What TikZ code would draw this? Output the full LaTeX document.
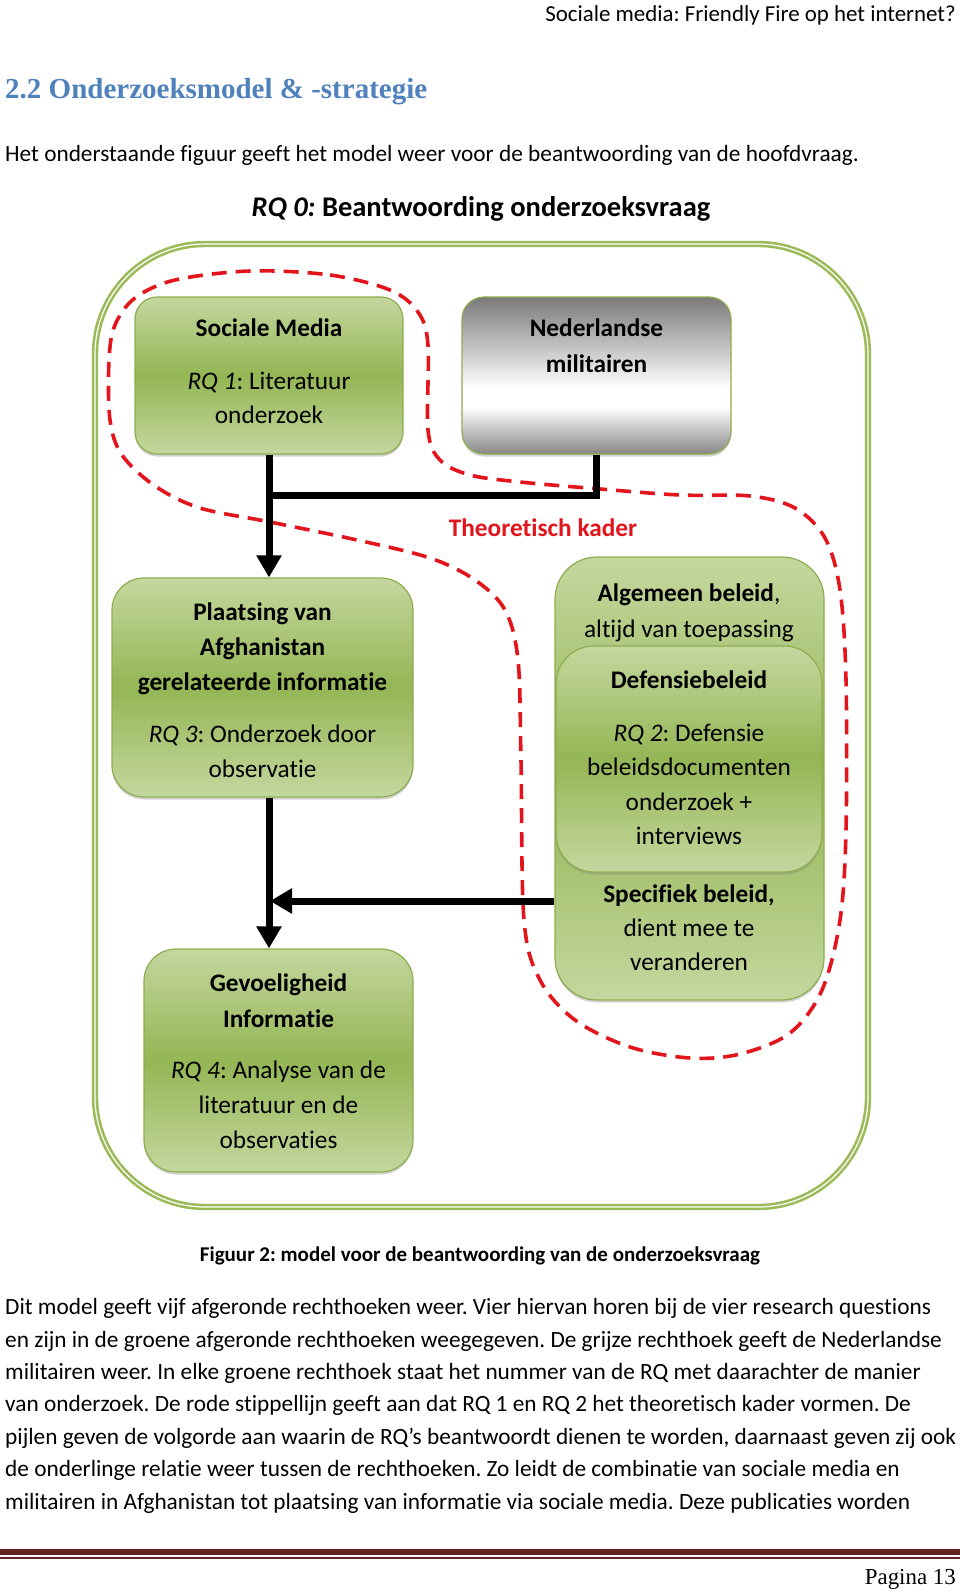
\documentclass[tikz,border=0pt]{standalone}
\usepackage{fontspec}
\setmainfont[Ligatures=CommonOff]{Carlito}
\newfontfamily\serifhead{Liberation Serif}
\usetikzlibrary{arrows.meta,shadows}
\definecolor{gfr}{HTML}{9BBB59}
\definecolor{glt}{HTML}{C4D79E}
\definecolor{gdk}{HTML}{94B654}
\definecolor{gbd}{HTML}{8DAE50}
\definecolor{rdash}{HTML}{E3151C}
\definecolor{hblue}{HTML}{4F81BD}
\definecolor{fline}{HTML}{622423}
\definecolor{gry}{HTML}{7A7A7A}
\pgfdeclareverticalshading{grayv}{100bp}{color(0bp)=(gry!90!white); color(25bp)=(gry!90!white); color(40bp)=(white); color(46bp)=(white); color(75bp)=(gry); color(100bp)=(gry)}
\frenchspacing
\begin{document}
\begin{tikzpicture}[x=1pt,y=-1pt,
  gbox/.style={draw=gbd, line width=1.2pt, rounded corners=#1, inner sep=0pt,
    top color=glt, bottom color=glt, middle color=gdk,
    drop shadow={shadow xshift=0pt,shadow yshift=-2.5pt,opacity=0.35}},
  graybox/.style={draw=gbd, line width=1.2pt, rounded corners=22pt, inner sep=0pt,
    shading=grayv,
    drop shadow={shadow xshift=0pt,shadow yshift=-2.5pt,opacity=0.35}},
  frame/.style={draw=gfr, double=white, double distance=1.2pt, line width=2.6pt,
    rounded corners=110pt, inner sep=0pt},
  txt/.style={inner sep=0pt, yshift=-7pt},
  bt/.style={txt, font=\fontsize{25.3}{30}\selectfont, anchor=mid},
  bb/.style={txt, font=\bfseries\fontsize{25.3}{30}\selectfont, anchor=mid},
  body/.style={txt, font=\fontsize{23.3}{28}\selectfont, anchor=mid west},
  conn/.style={line width=7pt, black, line join=miter},
  tip/.style={-{Triangle[width=24pt,length=22pt]}},
  redd/.style={rdash, line width=3.6pt, dash pattern=on 15pt off 9pt}
]
\useasboundingbox (0,0) rectangle (960,1592);
\fill[white] (0,0) rectangle (960,1592);

% page header and text
\node[txt, font=\fontsize{22.9}{28}\selectfont, anchor=mid east] (hdr) at (956,12) {Sociale media: Friendly Fire op het internet?};
\node[txt, font=\serifhead\bfseries\fontsize{29}{33}\selectfont, text=hblue, anchor=mid west] (h2) at (5,89) {2.2 Onderzoeksmodel \& -strategie};
\node[body] (intro) at (5,152) {Het onderstaande figuur geeft het model weer voor de beantwoording van de hoofdvraag.};

% diagram title
\node[txt, font=\bfseries\fontsize{28.5}{32}\selectfont, anchor=mid] (title) at (481,207) {\textit{RQ 0:} Beantwoording onderzoeksvraag};

% outer frame
\node[frame, minimum width=773pt, minimum height=963pt] (fr) at (481.5,725.5) {};

% boxes
\node[gbox=22pt, minimum width=268pt, minimum height=157pt] (sm) at (269,375.5) {};
\node[graybox, minimum width=269pt, minimum height=157pt] (nm) at (596.5,375.5) {};
\node[gbox=32pt, minimum width=301pt, minimum height=219pt] (pl) at (262.5,687.5) {};
\node[gbox=32pt, minimum width=269pt, minimum height=223pt] (gv) at (278.5,1060.5) {};
\node[gbox=42pt, minimum width=269pt, minimum height=443pt] (alg) at (689.5,778.5) {};
\node[gbox=38pt, minimum width=266pt, minimum height=226pt] (def) at (689,759) {};

% red dashed theoretical frame
\draw[redd] plot[smooth cycle, tension=0.55] coordinates {
 (250,271) (330,275) (390,290) (418,312) (428,345) (428,430) (440,460) (470,475)
 (520,482) (600,489) (680,495) (750,496) (795,508) (825,538) (840,590) (846,680)
 (846,830) (840,920) (822,990) (790,1033) (740,1054) (690,1058) (630,1047) (575,1020)
 (540,980) (524,920) (521,760) (518,660) (505,610) (475,580) (430,558) (357,540)
 (270,522) (200,508) (155,486) (122,455) (110,420) (109,360) (115,325) (135,298) (175,280)};
\node[txt, font=\bfseries\fontsize{25.3}{30}\selectfont, text=rdash, anchor=mid] (tk) at (543,527) {Theoretisch kader};

% connectors
\coordinate (jy) at (0,495);
\coordinate (hy) at (0,901);
\draw[conn] (nm.south) -- (nm.south |- jy) -- (sm.south |- jy);
\draw[conn,tip] (sm.south) -- (sm.south |- pl.north);
\draw[conn,tip] (sm.south |- pl.south) -- (sm.south |- gv.north);
\draw[conn,tip] (alg.west |- hy) -- ([xshift=1pt]sm.south |- hy);

% box texts
\node[bb] (t1a) at (269,327) {Sociale Media};
\node[bt] (t1b) at (269,380) {\textit{RQ 1}: Literatuur};
\node[bt] (t1c) at (269,414) {onderzoek};

\node[bb] (t2a) at (596.5,327) {Nederlandse};
\node[bb] (t2b) at (596.5,363) {militairen};

\node[bb] (t3a) at (262.5,611) {Plaatsing van};
\node[bb] (t3b) at (262.5,646) {Afghanistan};
\node[bb] (t3c) at (262.5,681) {gerelateerde informatie};
\node[bt] (t3d) at (262.5,733) {\textit{RQ 3}: Onderzoek door};
\node[bt] (t3e) at (262.5,768) {observatie};

\node[bb] (t4a) at (278.5,982) {Gevoeligheid};
\node[bb] (t4b) at (278.5,1018) {Informatie};
\node[bt] (t4c) at (278.5,1069) {\textit{RQ 4}: Analyse van de};
\node[bt] (t4d) at (278.5,1104) {literatuur en de};
\node[bt] (t4e) at (278.5,1139) {observaties};

\node[bt] (t5a) at (689,592) {\textbf{Algemeen beleid},};
\node[bt] (t5b) at (689,628) {altijd van toepassing};
\node[bb] (t5c) at (689,679) {Defensiebeleid};
\node[bt] (t5d) at (689,732) {\textit{RQ 2}: Defensie};
\node[bt] (t5e) at (689,766) {beleidsdocumenten};
\node[bt] (t5f) at (689,801) {onderzoek +};
\node[bt] (t5g) at (689,835) {interviews};
\node[bb] (t5h) at (689,893) {Specifiek beleid,};
\node[bt] (t5i) at (689,927) {dient mee te};
\node[bt] (t5j) at (689,961) {veranderen};

% caption and body
\node[txt, font=\bfseries\fontsize{21}{25}\selectfont, anchor=mid] (cap) at (480,1252) {Figuur 2: model voor de beantwoording van de onderzoeksvraag};
\node[body] (b1) at (5,1305) {Dit model geeft vijf afgeronde rechthoeken weer. Vier hiervan horen bij de vier research questions};
\node[body] (b2) at (5,1338) {en zijn in de groene afgeronde rechthoeken weegegeven. De grijze rechthoek geeft de Nederlandse};
\node[body] (b3) at (5,1370) {militairen weer. In elke groene rechthoek staat het nummer van de RQ met daarachter de manier};
\node[body] (b4) at (5,1402) {van onderzoek. De rode stippellijn geeft aan dat RQ 1 en RQ 2 het theoretisch kader vormen. De};
\node[body] (b5) at (5,1435) {pijlen geven de volgorde aan waarin de RQ’s beantwoordt dienen te worden, daarnaast geven zij ook};
\node[body] (b6) at (5,1467) {de onderlinge relatie weer tussen de rechthoeken. Zo leidt de combinatie van sociale media en};
\node[body] (b7) at (5,1500) {militairen in Afghanistan tot plaatsing van informatie via sociale media. Deze publicaties worden};

% footer
\fill[fline] (0,1549) rectangle (960,1554.5);
\draw[fline, line width=1.4pt] (0,1558) -- (960,1558);
\node[txt, font=\serifhead\fontsize{22.9}{28}\selectfont, anchor=mid east] (pg) at (956,1575) {Pagina 13};
\end{tikzpicture}
\end{document}
